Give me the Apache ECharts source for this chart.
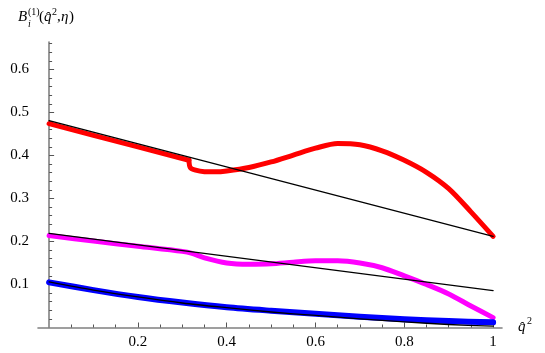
<!DOCTYPE html>
<html><head><meta charset="utf-8">
<script src="https://cdn.jsdelivr.net/npm/echarts@6/dist/echarts.min.js"></script>
<style>html,body{margin:0;padding:0;background:#fff}#c{width:545px;height:353px}</style>
</head><body><div id="c"></div>
<script>
// ---- data ----
const redX   = [0, 0.1, 0.2, 0.3, 0.315, 0.318, 0.33, 0.35, 0.375, 0.4, 0.45, 0.5, 0.55, 0.6, 0.65, 0.7, 0.75, 0.8, 0.85, 0.9, 0.95, 1.0];
const redY   = [0.474, 0.447, 0.420, 0.393, 0.389, 0.372, 0.366, 0.3625, 0.362, 0.364, 0.372, 0.385, 0.401, 0.417, 0.428, 0.425, 0.411, 0.389, 0.361, 0.323, 0.269, 0.212];
const redDropIndex = 4;
const magX   = [0, 0.1, 0.2, 0.3, 0.32, 0.35, 0.4, 0.45, 0.5, 0.55, 0.6, 0.65, 0.7, 0.75, 0.8, 0.85, 0.9, 0.95, 1.0];
const magY   = [0.214, 0.201, 0.189, 0.177, 0.173, 0.162, 0.150, 0.147, 0.148, 0.152, 0.155, 0.155, 0.150, 0.139, 0.120, 0.100, 0.078, 0.050, 0.023];
const blueX  = [0, 0.1, 0.2, 0.3, 0.4, 0.5, 0.6, 0.7, 0.8, 0.9, 1.0];
const blueY  = [0.105, 0.087, 0.071, 0.058, 0.047, 0.039, 0.032, 0.025, 0.019, 0.015, 0.012];
const black1X = [0, 1.0];
const black1Y = [0.481, 0.212];
const black2X = [0, 1.0];
const black2Y = [0.219, 0.086];
const black3X = [0, 0.1, 0.2, 0.3, 0.4, 0.5, 0.6, 0.7, 0.8, 0.9, 1.0];
const black3Y = [0.106, 0.087, 0.071, 0.057, 0.046, 0.036, 0.028, 0.020, 0.013, 0.007, 0.003];
const xMajorTicks = [0.2, 0.4, 0.6, 0.8, 1.0];
const xTickLabels = ['0.2', '0.4', '0.6', '0.8', '1'];
const xMinorTicks = [0.05, 0.1, 0.15, 0.25, 0.3, 0.35, 0.45, 0.5, 0.55, 0.65, 0.7, 0.75, 0.85, 0.9, 0.95];
const yMajorTicks = [0.1, 0.2, 0.3, 0.4, 0.5, 0.6];
const yTickLabels = ['0.1', '0.2', '0.3', '0.4', '0.5', '0.6'];
const yMinorTicks = [0.02, 0.04, 0.06, 0.08, 0.12, 0.14, 0.16, 0.18, 0.22, 0.24, 0.26, 0.28, 0.32, 0.34, 0.36, 0.38, 0.42, 0.44, 0.46, 0.48, 0.52, 0.54, 0.56, 0.58, 0.62, 0.64, 0.66];

const zip = (xs, ys) => xs.map((x, i) => [x, ys[i]]);
const FONT = 'Liberation Serif';
const X_MIN = -0.025, X_MAX = 1.02, Y_MIN = 0, Y_MAX = 0.664;
const AX = '#808080';

function xAxisCfg(major) {
  return {
    type: 'value', min: X_MIN, max: X_MAX, position: 'bottom',
    axisLine: { show: true, onZero: true, lineStyle: { color: major ? AX : 'rgba(0,0,0,0)', width: 1.6 } },
    axisTick: { show: true, inside: true, length: major ? 5 : 3, customValues: major ? xMajorTicks : xMinorTicks, lineStyle: { color: '#555', width: 1 } },
    axisLabel: { show: major, customValues: xMajorTicks, margin: 7, color: '#000', fontFamily: FONT, fontSize: 15,
      formatter: v => { const i = xMajorTicks.findIndex(t => Math.abs(t - v) < 1e-9); return i >= 0 ? xTickLabels[i] : ''; } },
    splitLine: { show: false }
  };
}
function yAxisCfg(major) {
  return {
    type: 'value', min: Y_MIN, max: Y_MAX, position: 'left',
    axisLine: { show: true, onZero: true, lineStyle: { color: major ? AX : 'rgba(0,0,0,0)', width: 1.6 } },
    axisTick: { show: true, inside: true, length: major ? 5 : 3, customValues: major ? yMajorTicks : yMinorTicks, lineStyle: { color: '#555', width: 1 } },
    axisLabel: { show: major, customValues: yMajorTicks, margin: 9, color: '#000', fontFamily: FONT, fontSize: 15,
      formatter: v => { const i = yMajorTicks.findIndex(t => Math.abs(t - v) < 1e-9); return i >= 0 ? yTickLabels[i] : ''; } },
    splitLine: { show: false }
  };
}
function line(data, color, width, z, smooth) {
  return { type: 'line', data, showSymbol: false, symbol: 'none', smooth: smooth, z,
    lineStyle: { color, width, cap: 'round', join: 'round' }, xAxisIndex: 0, yAxisIndex: 0, silent: true, animation: false };
}

const redAll = zip(redX, redY);
const chart = echarts.init(document.getElementById('c'), null, { renderer: 'canvas' });
chart.setOption({
  animation: false,
  backgroundColor: '#fff',
  grid: { left: 38, right: 43, top: 42, bottom: 25.5, containLabel: false },
  xAxis: [xAxisCfg(true), xAxisCfg(false)],
  yAxis: [yAxisCfg(true), yAxisCfg(false)],
  series: [
    line(redAll.slice(0, redDropIndex + 1), '#ff0000', 5, 3, false),
    line(redAll.slice(redDropIndex), '#ff0000', 5, 3, 0.3),
    line(zip(magX, magY), '#ff00ff', 5, 3, 0.3),
    line(zip(blueX, blueY), '#0000ff', 6, 3, 0.3),
    line(zip(black1X, black1Y), '#000', 1.3, 5, false),
    line(zip(black2X, black2Y), '#000', 1.3, 5, false),
    line(zip(black3X, black3Y), '#000', 1.3, 5, 0.3)
  ],
  graphic: [
    { type: 'text', left: 18, top: 10, style: { text: 'B', font: 'italic 15px "Liberation Serif"', fill: '#000' } },
    { type: 'text', left: 28, top: 7, style: { text: '(1)', font: '10px "Liberation Serif"', fill: '#000' } },
    { type: 'text', left: 28, top: 19, style: { text: 'i', font: 'italic 10px "Liberation Serif"', fill: '#000' } },
    { type: 'text', left: 39, top: 10, style: { text: '(', font: '15px "Liberation Serif"', fill: '#000' } },
    { type: 'text', left: 44, top: 10, style: { text: 'q\u0302', font: 'italic 15px "Liberation Serif"', fill: '#000' } },
    { type: 'text', left: 52, top: 7, style: { text: '2', font: '10px "Liberation Serif"', fill: '#000' } },
    { type: 'text', left: 57, top: 10, style: { text: ',', font: '15px "Liberation Serif"', fill: '#000' } },
    { type: 'text', left: 61, top: 10, style: { text: '\u03b7', font: 'italic 15px "Liberation Serif"', fill: '#000' } },
    { type: 'text', left: 69, top: 10, style: { text: ')', font: '15px "Liberation Serif"', fill: '#000' } },
    { type: 'text', left: 518, top: 320, style: { text: 'q\u0302', font: 'italic 15px "Liberation Serif"', fill: '#000' } },
    { type: 'text', left: 527, top: 316, style: { text: '2', font: '10px "Liberation Serif"', fill: '#000' } }
  ]
});
</script></body></html>
